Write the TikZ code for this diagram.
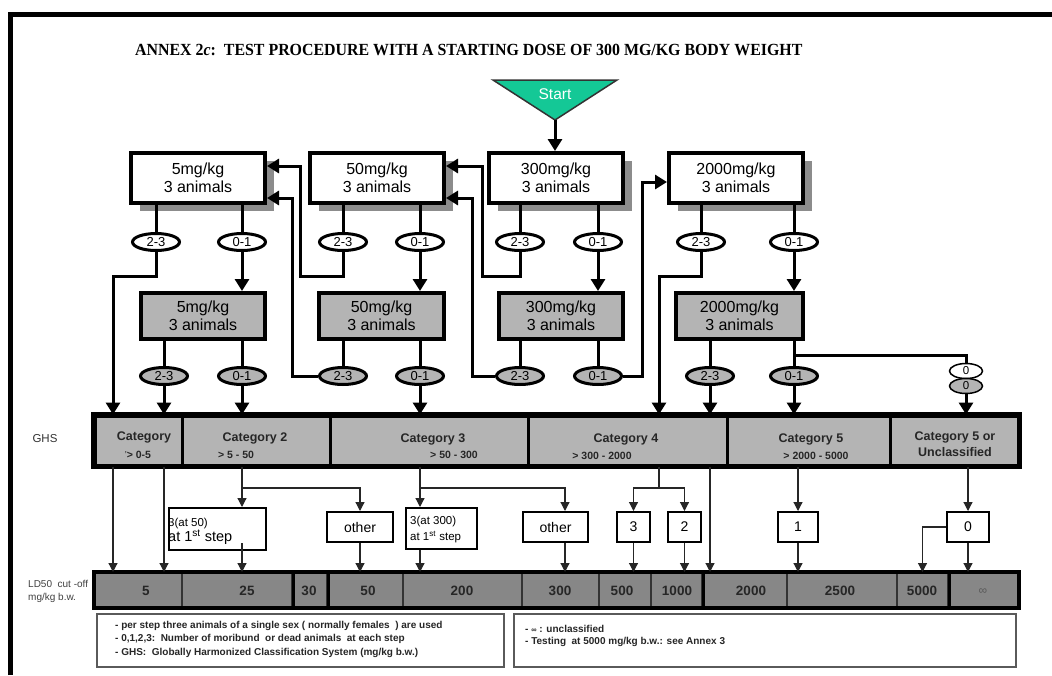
\documentclass[tikz,border=0pt]{standalone}
\usepackage{fontspec}
\setmainfont{Liberation Serif}
\setsansfont{Liberation Sans}
\usetikzlibrary{arrows.meta,shadows,calc,shapes.geometric}
\definecolor{startgreen}{RGB}{20,200,150}
\definecolor{boxgray}{RGB}{180,180,180}
\definecolor{shadowgray}{RGB}{140,140,140}
\definecolor{ldgray}{RGB}{135,135,135}
\definecolor{notegray}{RGB}{90,90,90}
\begin{document}
\begin{tikzpicture}[x=1pt,y=-1pt,
  font=\sffamily,
  topbox/.style={draw, line width=4pt, fill=white, minimum width=134pt, minimum height=50pt,
     inner sep=0pt, align=center, font=\sffamily\fontsize{16}{18.5}\selectfont,
     drop shadow={shadow xshift=9pt, shadow yshift=-8pt, fill=shadowgray, opacity=1}},
  graybox/.style={draw, line width=4pt, fill=boxgray, minimum height=46pt,
     inner sep=0pt, align=center, font=\sffamily\fontsize{16}{18.5}\selectfont},
  oval/.style={ellipse, draw, line width=3pt, fill=white, minimum width=47pt, minimum height=17pt,
     inner sep=0pt, font=\sffamily\fontsize{13}{13}\selectfont},
  goval/.style={oval, fill=boxgray},
  zoval/.style={ellipse, draw, line width=1.5pt, fill=white, minimum width=33pt, minimum height=15pt,
     inner sep=0pt, font=\sffamily\fontsize{11.5}{11.5}\selectfont},
  conn/.style={line width=3pt},
  arr/.style={line width=3pt, -{Triangle[length=12pt,width=14pt]}},
  tline/.style={line width=1.2pt, black!85},
  tarr/.style={line width=1.2pt, black!85, -{Triangle[length=9pt,width=9pt]}},
  ghsseg/.style={draw, line width=3pt, fill=boxgray, minimum height=49pt, inner sep=0pt},
  ldseg/.style={draw, line width=2pt, draw=black!80, fill=ldgray, minimum height=34pt, inner sep=0pt},
  ghst/.style={font=\sffamily\bfseries\fontsize{12.5}{14}\selectfont, text=black!85},
  ghsr/.style={font=\sffamily\bfseries\fontsize{10.5}{11}\selectfont, text=black!85},
  ldt/.style={font=\sffamily\bfseries\fontsize{13.5}{13.5}\selectfont, text=black!85},
  smallbox/.style={draw, line width=2pt, fill=white, inner sep=0pt, minimum height=30pt,
     font=\sffamily\fontsize{14}{14}\selectfont},
  notebox/.style={draw=notegray, line width=1.5pt, fill=white, minimum height=53pt, inner sep=0pt},
  notet/.style={anchor=north west, align=left, inner sep=0pt, text=black!85,
     font=\sffamily\bfseries\fontsize{10}{13.5}\selectfont}
]
\useasboundingbox (0,0) rectangle (1052,675);
\fill[white] (0,0) rectangle (1052,675);
\draw[line width=5pt] (10.5,675) -- (10.5,14.5) -- (1052,14.5);

% title
\node[anchor=west, inner sep=0pt, font=\rmfamily\bfseries\fontsize{17}{17}\selectfont] (title) at (135,50)
  {\scalebox{0.935}[1]{ANNEX 2\textit{c}:\ \ TEST PROCEDURE WITH A STARTING DOSE OF 300 MG/KG BODY WEIGHT}};

% start
\draw[line width=1.5pt, fill=startgreen, draw=black!80] (493,80) -- (617,80) -- (555,120) -- cycle;
\node[text=white, font=\sffamily\fontsize{15.5}{15.5}\selectfont] (start) at (555,94) {Start};
\coordinate (sa) at (555,120);

% top boxes
\node[topbox] (t5) at (198,178) {5mg/kg\\3 animals};
\node[topbox] (t50) at (377,178) {50mg/kg\\3 animals};
\node[topbox] (t300) at (556,178) {300mg/kg\\3 animals};
\node[topbox] (t2000) at (736,178) {2000mg/kg\\3 animals};

% gray boxes
\node[graybox, minimum width=124pt] (g5) at (203,316) {5mg/kg\\3 animals};
\node[graybox, minimum width=125pt] (g50) at (381.5,316) {50mg/kg\\3 animals};
\node[graybox, minimum width=124pt] (g300) at (561,316) {300mg/kg\\3 animals};
\node[graybox, minimum width=127pt] (g2000) at (739.5,316) {2000mg/kg\\3 animals};

% top ellipses
\node[oval] (e5a) at (156,242) {2-3};
\node[oval] (e5b) at (242,242) {0-1};
\node[oval] (e50a) at (343,242) {2-3};
\node[oval] (e50b) at (420,242) {0-1};
\node[oval] (e300a) at (520,242) {2-3};
\node[oval] (e300b) at (598,242) {0-1};
\node[oval] (e2000a) at (701,242) {2-3};
\node[oval] (e2000b) at (794,242) {0-1};

% gray ellipses
\node[goval] (f5a) at (164,376) {2-3};
\node[goval] (f5b) at (242,376) {0-1};
\node[goval] (f50a) at (343,376) {2-3};
\node[goval] (f50b) at (420,376) {0-1};
\node[goval] (f300a) at (520,376) {2-3};
\node[goval] (f300b) at (598,376) {0-1};
\node[goval] (f2000a) at (710,376) {2-3};
\node[goval] (f2000b) at (794,376) {0-1};
\node[zoval] (z1) at (966,371) {0};
\node[zoval, fill=boxgray] (z2) at (966,386) {0};

% GHS bar
\node[ghsseg, minimum width=87pt] (c1) at (138.5,440.5) {};
\node[ghsseg, minimum width=148pt] (c2) at (256,440.5) {};
\node[ghsseg, minimum width=198pt] (c3) at (429,440.5) {};
\node[ghsseg, minimum width=199pt] (c4) at (627.5,440.5) {};
\node[ghsseg, minimum width=163pt] (c5) at (808.5,440.5) {};
\node[ghsseg, minimum width=128pt] (c6) at (954,440.5) {};
\draw[line width=4.5pt] (c1.north west) rectangle (c6.south east);
\node[ghst] (c1t) at (144,437) {Category};
\node[ghsr] (c1r) at (138,455) {\raisebox{2pt}{\fontsize{7}{7}\selectfont '}> 0-5};
\node[ghst] (c2t) at (255,438) {Category 2};
\node[ghsr] (c2r) at (236,455) {> 5 - 50};
\node[ghst] (c3t) at (433,439) {Category 3};
\node[ghsr] (c3r) at (454,455) {> 50 - 300};
\node[ghst] (c4t) at (626,439) {Category 4};
\node[ghsr] (c4r) at (602,456) {> 300 - 2000};
\node[ghst] (c5t) at (811,439) {Category 5};
\node[ghsr] (c5r) at (816,456) {> 2000 - 5000};
\node[ghst, align=center, font=\sffamily\bfseries\fontsize{12.5}{15.5}\selectfont] (c6t) at (955,444) {Category 5 or\\Unclassified};

\node[font=\sffamily\fontsize{11.5}{12}\selectfont, text=black!80] (ghslab) at (45,439) {GHS};
\node[anchor=west, align=left, inner sep=0pt, text=black!75, font=\sffamily\fontsize{10}{13}\selectfont] (ldlab) at (28,591) {LD50\ \ cut -off\\mg/kg b.w.};

% lower boxes
\node[smallbox, minimum width=97pt, minimum height=42pt] (b50) at (217.5,529) {};
\node[anchor=west, align=left, inner sep=0pt] (b50t) at (168,531)
  {{\fontsize{11.5}{13}\selectfont 3(at 50)}\\[0pt]{\fontsize{14.5}{15}\selectfont at 1\textsuperscript{st} step}};
\node[smallbox, minimum width=66pt] (o1) at (360,527) {other};
\node[smallbox, minimum width=71pt, minimum height=41pt] (b300) at (441.5,528.5) {};
\node[anchor=west, align=left, inner sep=0pt, font=\sffamily\fontsize{11.5}{16}\selectfont] (b300t) at (410,530)
  {3(at 300)\\at 1\textsuperscript{st} step};
\node[smallbox, minimum width=65pt] (o2) at (555.5,527) {other};
\node[smallbox, minimum width=33pt] (n3) at (633.5,527) {3};
\node[smallbox, minimum width=33pt] (n2) at (684.5,527) {2};
\node[smallbox, minimum width=40pt] (n1) at (798,527) {1};
\node[smallbox, minimum width=42pt] (n0) at (968,527) {0};

% LD50 bar
\node[ldseg, minimum width=87pt] (l1) at (138.5,590) {};
\node[ldseg, minimum width=110pt] (l2) at (237,590) {};
\node[ldseg, minimum width=35pt] (l3) at (309.5,590) {};
\node[ldseg, minimum width=76pt] (l4) at (365,590) {};
\node[ldseg, minimum width=119pt] (l5) at (462.5,590) {};
\node[ldseg, minimum width=77pt] (l6) at (560.5,590) {};
\node[ldseg, minimum width=52pt] (l7) at (625,590) {};
\node[ldseg, minimum width=51pt] (l8) at (676.5,590) {};
\node[ldseg, minimum width=85pt] (l9) at (744.5,590) {};
\node[ldseg, minimum width=110pt] (l10) at (842,590) {};
\node[ldseg, minimum width=51pt] (l11) at (922.5,590) {};
\node[ldseg, minimum width=70pt] (l12) at (983,590) {};
\draw[line width=3pt] (l2.north east) -- (l2.south east);
\draw[line width=3pt] (l3.north east) -- (l3.south east);
\draw[line width=3pt] (l8.north east) -- (l8.south east);
\draw[line width=3pt] (l11.north east) -- (l11.south east);
\draw[line width=4.5pt] (l1.north west) rectangle (l12.south east);
\node[ldt] (l1t) at (146,591) {5};
\node[ldt] (l2t) at (247,591) {25};
\node[ldt] (l3t) at (309,591) {30};
\node[ldt] (l4t) at (368,591) {50};
\node[ldt] (l5t) at (462,591) {200};
\node[ldt] (l6t) at (560,591) {300};
\node[ldt] (l7t) at (622,591) {500};
\node[ldt] (l8t) at (677,591) {1000};
\node[ldt] (l9t) at (751,591) {2000};
\node[ldt] (l10t) at (840,591) {2500};
\node[ldt] (l11t) at (922,591) {5000};
\node[ldt, font=\sffamily\fontsize{12}{12}\selectfont, text=black!65] (l12t) at (983,592) {∞};

% notes
\node[notebox, minimum width=407pt] (nl) at (300.5,640.5) {};
\node[notebox, minimum width=502pt] (nr) at (765,640.5) {};
\node[notet] (nlt) at (115,621) {- per step three animals of a single sex ( normally females\ \ ) are used\\- 0,1,2,3:\ \ Number of moribund\ \ or dead animals\ \ at each step\\- GHS:\ \ Globally Harmonized Classification System (mg/kg b.w.)};
\node[notet, font=\sffamily\bfseries\fontsize{10}{12.5}\selectfont] (nrt) at (525,625) {- {\fontsize{7.5}{7.5}\selectfont ∞} : unclassified\\- Testing\ \ at 5000 mg/kg b.w.: see Annex 3};

% ---------- connectors ----------
\draw[arr] (sa) -- (sa |- t300.north);

\foreach \b/\e in {t5/e5a, t5/e5b, t50/e50a, t50/e50b, t300/e300a, t300/e300b, t2000/e2000a, t2000/e2000b,
                   g5/f5a, g5/f5b, g50/f50a, g50/f50b, g300/f300a, g300/f300b, g2000/f2000a, g2000/f2000b}
  \draw[conn] (\e |- \b.south) -- (\e.north);

\foreach \e/\g in {e5b/g5, e50b/g50, e300b/g300, e2000b/g2000}
  \draw[arr] (\e.south) -- (\e |- \g.north);

% back arrows
\draw[arr] (e50a.south) |- (300,276) |- ([yshift=12pt]t5.east);
\draw[arr] (f50a.west) -| (292,198) -- ([yshift=-20pt]t5.east);
\draw[arr] (e300a.south) |- (482,276) |- ([yshift=12pt]t50.east);
\draw[arr] (f300a.west) -| (472,198) -- ([yshift=-20pt]t50.east);
\draw[arr] (f300b.east) -| (642,182) -- ([yshift=-4pt]t2000.west);

% into GHS
\coordinate (k113) at (113,276);
\coordinate (k659) at (659,276);
\coordinate (k355) at (794,355);
\draw[arr] (e5a.south) |- (k113) -- (k113 |- c1.north);
\draw[arr] (f5a.south) -- (f5a |- c1.north);
\draw[arr] (f5b.south) -- (f5b |- c2.north);
\draw[arr] (f50b.south) -- (f50b |- c3.north);
\draw[arr] (e2000a.south) |- (k659) -- (k659 |- c4.north);
\draw[arr] (f2000a.south) -- (f2000a |- c4.north);
\draw[arr] (f2000b.south) -- (f2000b |- c5.north);
\draw[conn] (k355) -| (z1.north);
\draw[arr] (z2.south) -- (z2 |- c6.north);

% GHS -> boxes -> LD50
\coordinate (h2) at (242,488);
\coordinate (h2b) at (242,543);
\coordinate (h3) at (420,488);
\coordinate (h3r) at (565,488);
\coordinate (h4) at (659,488);
\draw[tarr] (k113 |- c1.south) -- (k113 |- l1.north);
\draw[tarr] (f5a |- c1.south) -- (f5a |- l1.north);
\draw[tline] (h2 |- c2.south) -- (h2);
\draw[tarr] (h2) -- (h2 |- b50.north);
\draw[tarr] (h2) -| (o1.north);
\draw[tarr] (h2b) -- (h2b |- l2.north);
\draw[tarr] (o1.south) -- (o1 |- l4.north);
\draw[tline] (h3 |- c3.south) -- (h3);
\draw[tarr] (h3) -- (h3 |- b300.north);
\draw[tarr] (h3) -- (h3r) -- (h3r |- o2.north);
\draw[tarr] (h3r |- o2.south) -- (h3r |- l6.north);
\draw[tarr] (h3 |- b300.south) -- (h3 |- l5.north);
\draw[tline] (k659 |- c4.south) -- (h4);
\draw[tarr] (h4) -| (n3.north);
\draw[tarr] (h4) -| (n2.north);
\draw[tarr] (n3.south) -- (n3 |- l7.north);
\draw[tarr] (n2.south) -- (n2 |- l8.north);
\draw[tarr] (f2000a |- c4.south) -- (f2000a |- l9.north);
\draw[tarr] (n1 |- c5.south) -- (n1.north);
\draw[tarr] (n1.south) -- (n1 |- l10.north);
\draw[tarr] (n0 |- c6.south) -- (n0.north);
\draw[tarr] (n0.south) -- (n0 |- l12.north);
\draw[tarr] (n0.west) -| (l11.north);
\end{tikzpicture}
\end{document}
